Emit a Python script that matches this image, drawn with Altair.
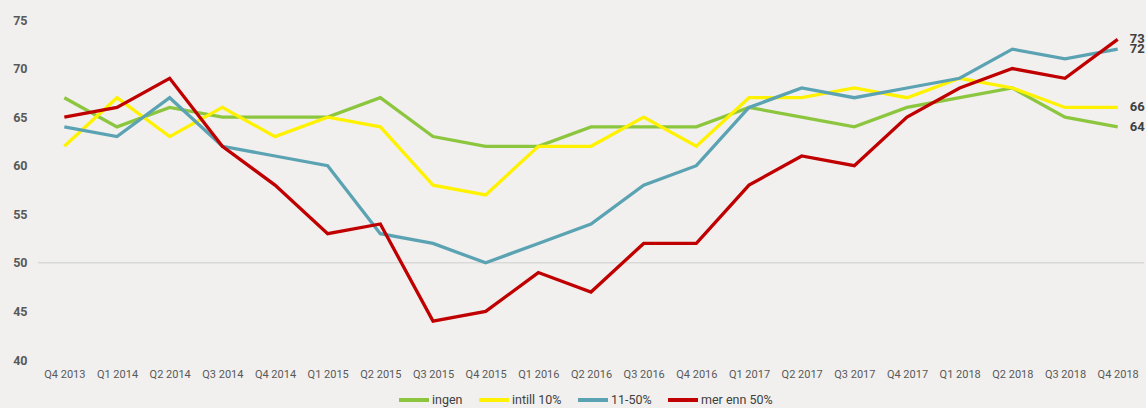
import altair as alt
import pandas as pd

quarters = ["Q4 2013", "Q1 2014", "Q2 2014", "Q3 2014", "Q4 2014", "Q1 2015", "Q2 2015",
            "Q3 2015", "Q4 2015", "Q1 2016", "Q2 2016", "Q3 2016", "Q4 2016", "Q1 2017",
            "Q2 2017", "Q3 2017", "Q4 2017", "Q1 2018", "Q2 2018", "Q3 2018", "Q4 2018"]
ingen = [67, 64, 66, 65, 65, 65, 67, 63, 62, 62, 64, 64, 64, 66, 65, 64, 66, 67, 68, 65, 64]
intill_10 = [62, 67, 63, 66, 63, 65, 64, 58, 57, 62, 62, 65, 62, 67, 67, 68, 67, 69, 68, 66, 66]
p11_50 = [64, 63, 67, 62, 61, 60, 53, 52, 50, 52, 54, 58, 60, 66, 68, 67, 68, 69, 72, 71, 72]
mer_50 = [65, 66, 69, 62, 58, 53, 54, 44, 45, 49, 47, 52, 52, 58, 61, 60, 65, 68, 70, 69, 73]

series_names = ["ingen", "intill 10%", "11-50%", "mer enn 50%"]
series_values = [ingen, intill_10, p11_50, mer_50]
colors = ["#8CC63F", "#FFF200", "#5BA3B3", "#C00000"]

rows = []
for name, vals in zip(series_names, series_values):
    for q, v in zip(quarters, vals):
        rows.append({"kvartal": q, "serie": name, "verdi": v})
df = pd.DataFrame(rows)
last = df[df["kvartal"] == quarters[-1]]

FONT = "Roboto"

x = alt.X("kvartal:N", sort=quarters, title=None,
          scale=alt.Scale(paddingInner=0, paddingOuter=0.5),
          axis=alt.Axis(labelAngle=0, domain=False, ticks=False, labelPadding=8,
                        labelFontSize=11, labelColor="#595959", labelFont=FONT))
y = alt.Y("verdi:Q", title=None,
          scale=alt.Scale(domain=[40, 75], nice=False, zero=False),
          axis=alt.Axis(values=[40, 45, 50, 55, 60, 65, 70, 75], grid=False, domain=False,
                        ticks=False, labelPadding=11, labelFontSize=12.5, labelFontWeight="bold",
                        labelColor="#595959", labelFont=FONT))

grid = alt.Chart(pd.DataFrame({"v": [50]})).mark_rule(color="#D9D9D9", strokeWidth=1.5).encode(
    y=alt.Y("v:Q", scale=alt.Scale(domain=[40, 75], nice=False, zero=False))
)

lines = alt.Chart(df).mark_line(strokeWidth=3.3).encode(
    x=x, y=y,
    color=alt.Color("serie:N", sort=series_names,
                    scale=alt.Scale(domain=series_names, range=colors),
                    legend=alt.Legend(title=None, orient="none", legendX=359, legendY=363,
                                      direction="horizontal", symbolType="stroke",
                                      symbolSize=900, symbolStrokeWidth=4,
                                      labelFontSize=12.5, labelColor="#404040", labelFont=FONT,
                                      columnPadding=8, labelOffset=1)),
)

labels = alt.Chart(last).mark_text(align="left", dx=12, fontSize=13, fontWeight="bold",
                                   color="#404040", font=FONT).encode(
    x=alt.X("kvartal:N", sort=quarters), y=alt.Y("verdi:Q"), text="verdi:Q"
)

chart = alt.layer(grid, lines, labels).properties(
    width=1106, height=340,
    padding={"left": 38, "top": 20, "right": 2, "bottom": 48},
    autosize=alt.AutoSizeParams(type="none"),
    background="#F1F0EE",
).configure_view(stroke=None)

chart.save("out.html", embed_options={"renderer": "svg", "actions": False})
